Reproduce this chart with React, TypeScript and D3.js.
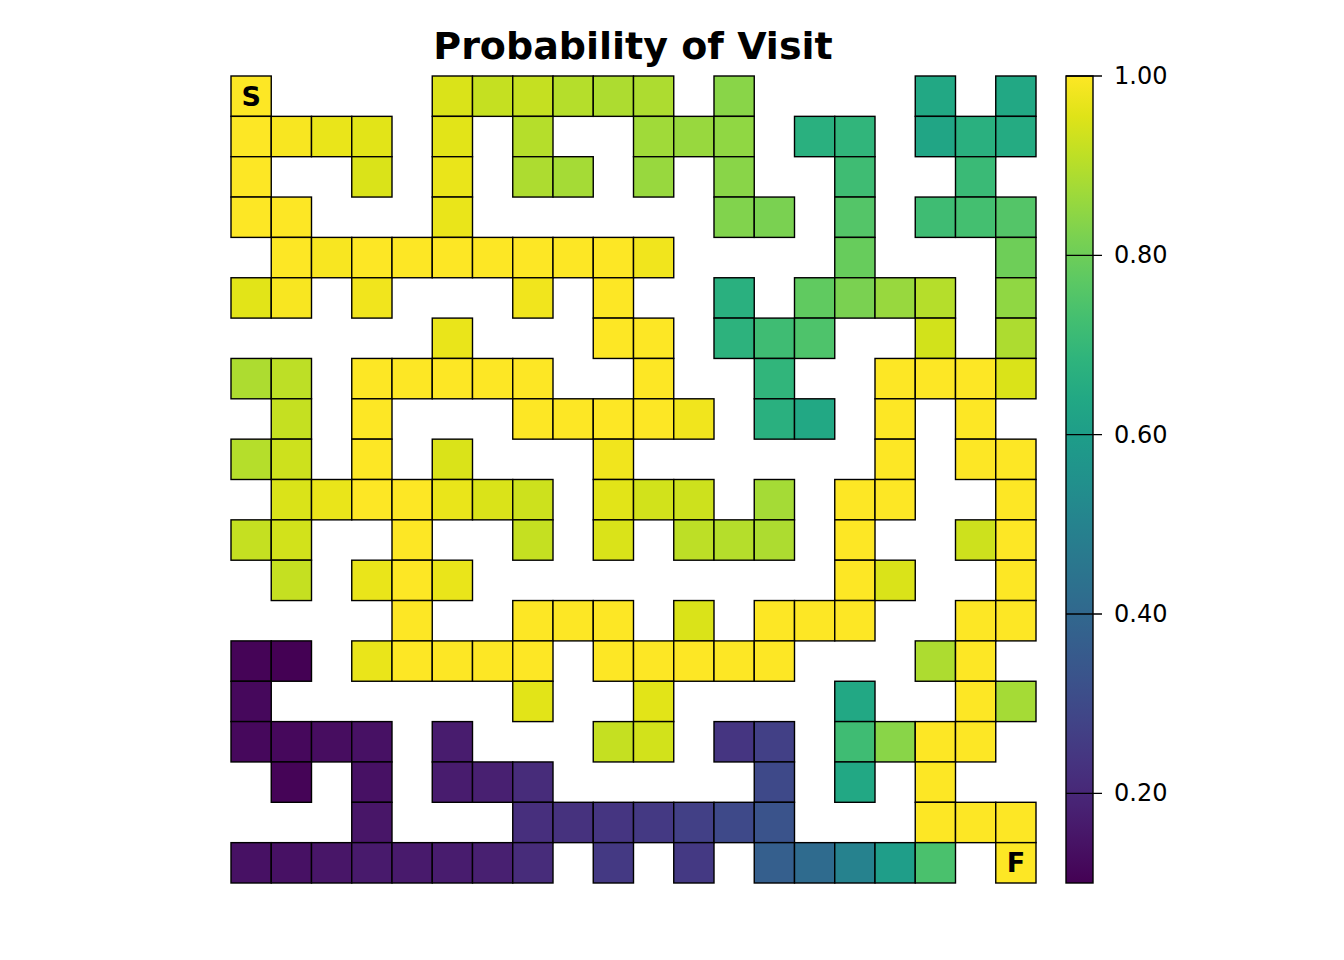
import { useEffect, useRef } from 'react';
import * as d3 from 'd3';

// wall cells are null, open cells hold the visit probability
const _ = null;
const row00 = [1.00, _, _, _, _, 0.95, 0.92, 0.92, 0.90, 0.89, 0.89, _, 0.84, _, _, _, _, 0.64, _, 0.64];
const row01 = [1.00, 0.99, 0.97, 0.96, _, 0.96, _, 0.90, _, _, 0.87, 0.86, 0.85, _, 0.67, 0.69, _, 0.63, 0.67, 0.65];
const row02 = [1.00, _, _, 0.95, _, 0.97, _, 0.89, 0.88, _, 0.86, _, 0.84, _, _, 0.72, _, _, 0.71, _];
const row03 = [1.00, 1.00, _, _, _, 0.97, _, _, _, _, _, _, 0.83, 0.82, _, 0.76, _, 0.72, 0.73, 0.76];
const row04 = [_, 1.00, 0.99, 1.00, 1.00, 1.00, 1.00, 1.00, 1.00, 1.00, 0.98, _, _, _, _, 0.79, _, _, _, 0.80];
const row05 = [0.96, 0.99, _, 0.98, _, _, _, 0.98, _, 1.00, _, _, 0.67, _, 0.78, 0.82, 0.86, 0.90, _, 0.85];
const row06 = [_, _, _, _, _, 0.97, _, _, _, 1.00, 1.00, _, 0.68, 0.72, 0.75, _, _, 0.94, _, 0.89];
const row07 = [0.89, 0.91, _, 1.00, 1.00, 1.00, 1.00, 1.00, _, _, 1.00, _, _, 0.69, _, _, 1.00, 1.00, 1.00, 0.95];
const row08 = [_, 0.92, _, 1.00, _, _, _, 1.00, 1.00, 1.00, 1.00, 0.98, _, 0.67, 0.64, _, 1.00, _, 1.00, _];
const row09 = [0.90, 0.93, _, 1.00, _, 0.95, _, _, _, 0.98, _, _, _, _, _, _, 1.00, _, 1.00, 1.00];
const row10 = [_, 0.95, 0.97, 1.00, 1.00, 0.97, 0.95, 0.93, _, 0.96, 0.94, 0.93, _, 0.88, _, 1.00, 1.00, _, _, 1.00];
const row11 = [0.92, 0.94, _, _, 1.00, _, _, 0.92, _, 0.95, _, 0.91, 0.90, 0.89, _, 1.00, _, _, 0.93, 1.00];
const row12 = [_, 0.92, _, 0.97, 1.00, 0.97, _, _, _, _, _, _, _, _, _, 1.00, 0.95, _, _, 1.00];
const row13 = [_, _, _, _, 1.00, _, _, 1.00, 1.00, 1.00, _, 0.95, _, 1.00, 1.00, 1.00, _, _, 1.00, 1.00];
const row14 = [0.11, 0.10, _, 0.97, 1.00, 1.00, 1.00, 1.00, _, 1.00, 1.00, 1.00, 1.00, 1.00, _, _, _, 0.89, 1.00, _];
const row15 = [0.12, _, _, _, _, _, _, 0.96, _, _, 0.96, _, _, _, _, 0.64, _, _, 1.00, 0.88];
const row16 = [0.12, 0.12, 0.13, 0.14, _, 0.17, _, _, _, 0.92, 0.94, _, 0.24, 0.27, _, 0.72, 0.84, 1.00, 1.00, _];
const row17 = [_, 0.11, _, 0.14, _, 0.17, 0.18, 0.21, _, _, _, _, _, 0.30, _, 0.64, _, 1.00, _, _];
const row18 = [_, _, _, 0.15, _, _, _, 0.22, 0.23, 0.24, 0.25, 0.27, 0.30, 0.33, _, _, _, 1.00, 1.00, 1.00];
const row19 = [0.14, 0.14, 0.15, 0.16, 0.16, 0.17, 0.18, 0.21, _, 0.25, _, 0.25, _, 0.37, 0.41, 0.50, 0.60, 0.74, _, 1.00];

const maze = [row00, row01, row02, row03, row04, row05, row06, row07, row08, row09,
  row10, row11, row12, row13, row14, row15, row16, row17, row18, row19];

const startCell = { row: 0, col: 0, label: 'S' };
const finishCell = { row: 19, col: 19, label: 'F' };
const colorbarTicks = [0.2, 0.4, 0.6, 0.8, 1.0];

export default function App() {
  const svgRef = useRef<SVGSVGElement>(null);

  useEffect(() => {
    if (!svgRef.current) return;
    const svg = d3.select(svgRef.current);
    svg.selectAll('*').remove();

    const n = maze.length;
    const left = 231, right = 1036, top = 76, bottom = 883;

    const x = d3.scaleLinear().domain([0, n]).range([left, right]);
    const y = d3.scaleLinear().domain([0, n]).range([top, bottom]);

    const values = maze.flat().filter((v) => v !== null) as number[];
    const vmin = d3.min(values) ?? 0;
    const vmax = d3.max(values) ?? 1;
    const color = d3.scaleSequential(d3.interpolateViridis).domain([vmin, vmax]);

    const cells: { r: number; c: number; v: number }[] = [];
    maze.forEach((row, r) => row.forEach((v, c) => {
      if (v !== null) cells.push({ r, c, v });
    }));

    svg.append('g')
      .selectAll('rect')
      .data(cells)
      .enter()
      .append('rect')
      .attr('x', (d) => x(d.c))
      .attr('y', (d) => y(d.r))
      .attr('width', x(1) - x(0))
      .attr('height', y(1) - y(0))
      .attr('fill', (d) => color(d.v))
      .attr('stroke', '#000')
      .attr('stroke-width', 1.4);

    // S / F markers
    [startCell, finishCell].forEach((m) => {
      svg.append('text')
        .attr('x', x(m.col + 0.5))
        .attr('y', y(m.row + 0.5))
        .attr('text-anchor', 'middle')
        .attr('dominant-baseline', 'central')
        .style('font-family', 'DejaVu Sans')
        .style('font-weight', 'bold')
        .style('font-size', '27px')
        .style('fill', '#000')
        .text(m.label);
    });

    // title
    svg.append('text')
      .attr('x', 633)
      .attr('y', 59)
      .attr('text-anchor', 'middle')
      .style('font-family', 'DejaVu Sans')
      .style('font-weight', 'bold')
      .style('font-size', '38px')
      .style('fill', '#000')
      .text('Probability of Visit');

    // colorbar
    const barX = 1066, barW = 27;
    const cy = d3.scaleLinear().domain([vmin, vmax]).range([bottom, top]);
    const defs = svg.append('defs');
    const grad = defs.append('linearGradient')
      .attr('id', 'viridis-bar')
      .attr('x1', 0).attr('y1', 1).attr('x2', 0).attr('y2', 0);
    d3.range(0, 1.0001, 0.05).forEach((t) => {
      grad.append('stop')
        .attr('offset', `${t * 100}%`)
        .attr('stop-color', d3.interpolateViridis(t));
    });
    svg.append('rect')
      .attr('x', barX)
      .attr('y', top)
      .attr('width', barW)
      .attr('height', bottom - top)
      .attr('fill', 'url(#viridis-bar)')
      .attr('stroke', '#000')
      .attr('stroke-width', 1.4);

    svg.append('g')
      .selectAll('line')
      .data(colorbarTicks)
      .enter()
      .append('line')
      .attr('x1', barX)
      .attr('x2', barX + barW + 9)
      .attr('y1', (d) => cy(d))
      .attr('y2', (d) => cy(d))
      .attr('stroke', '#000')
      .attr('stroke-width', 1.4);

    svg.append('g')
      .selectAll('text')
      .data(colorbarTicks)
      .enter()
      .append('text')
      .attr('x', barX + barW + 21)
      .attr('y', (d) => cy(d))
      .attr('dominant-baseline', 'central')
      .style('font-family', 'DejaVu Sans')
      .style('font-size', '24px')
      .style('fill', '#000')
      .text((d) => d3.format('.2f')(d));
  }, []);

  return (
    <svg
      ref={svgRef}
      width={1344}
      height={960}
      style={{ position: 'absolute', left: 0, top: 0, background: '#fff' }}
    />
  );
}
